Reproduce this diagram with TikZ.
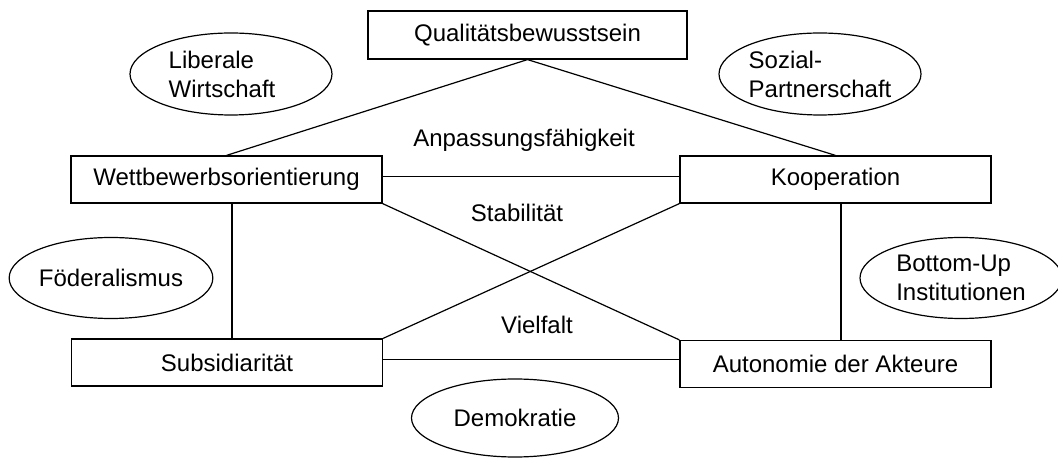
\documentclass[tikz,border=0pt]{standalone}
\usepackage{fontspec}
\setmainfont{Liberation Sans}
\usetikzlibrary{shapes.geometric}

\begin{document}
\begin{tikzpicture}[x=0.5pt, y=-0.5pt, font=\fontsize{12}{14.5}\selectfont, line width=0.6pt]
\tikzstyle{box} = [draw, rectangle, minimum width=155.5pt, minimum height=23.5pt, inner sep=0pt]
\tikzstyle{oval} = [draw, ellipse, minimum width=101pt, minimum height=41pt, inner sep=0pt, align=left]
\tikzstyle{tag} = [inner sep=1pt]

\fill[white] (0,0) rectangle (1058,458);
\useasboundingbox (0,0) rectangle (1058,458);

% Kaestchen
\node[box, minimum width=159.5pt, minimum height=24pt] (qual) at (527.5,35) {Qualitätsbewusstsein};
\node[box] (wett) at (226.5,179.5) {Wettbewerbsorientierung};
\node[box] (koop) at (835.5,179.5) {Kooperation};
\node[box] (subs) at (227,362.5) {Subsidiarität};
\node[box] (auto) at (835.5,364) {Autonomie der Akteure};

% Ellipsen
\node[oval] (lib) at (231,74) {\hspace*{-9pt}Liberale\\\hspace*{-9pt}Wirtschaft};
\node[oval] (soz) at (820,74) {Sozial-\\Partnerschaft};
\node[oval, minimum height=40.5pt] (foed) at (111,278) {Föderalismus};
\node[oval, minimum height=40.5pt] (bott) at (961,278) {Bottom-Up\\Institutionen};
\node[oval, minimum width=103.5pt, minimum height=39pt] (demo) at (515,418) {Demokratie};

% Eigenschaften
\node[tag] (anp) at (524,140) {Anpassungsfähigkeit};
\node[tag] (stab) at (517,213) {Stabilität};
\node[tag] (viel) at (537,325) {Vielfalt};

% Verbindungen
\draw (qual.south) -- (wett.north);
\draw (qual.south) -- (koop.north);
\draw ([yshift=1.5pt]wett.east) -- ([yshift=1.5pt]wett.east -| koop.west);
\draw ([yshift=1.5pt]subs.east) -- ([yshift=1.5pt]subs.east -| auto.west);
\draw ([xshift=2.75pt]wett.south) -- ([xshift=2.75pt]wett.south |- subs.north);
\draw ([xshift=2.75pt]koop.south) -- ([xshift=2.75pt]koop.south |- auto.north);
\draw (wett.south east) -- (auto.north west);
\draw (koop.south west) -- (subs.north east);
\end{tikzpicture}
\end{document}
